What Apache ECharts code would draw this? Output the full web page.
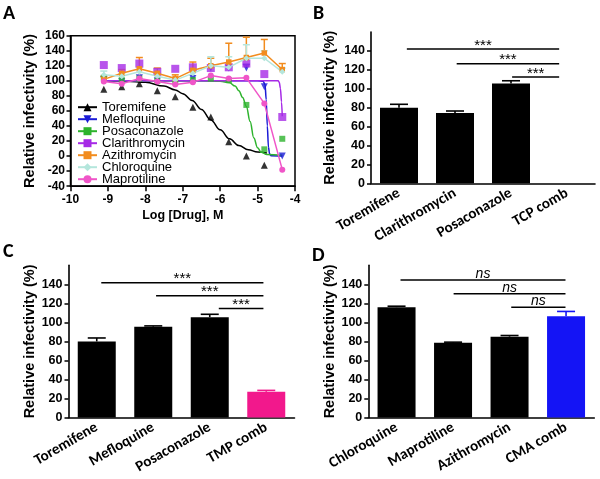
<!DOCTYPE html>
<html><head><meta charset="utf-8">
<script src="https://cdn.jsdelivr.net/npm/echarts@6/dist/echarts.min.js"></script>
<style>html,body{margin:0;padding:0;background:#fff}#c{width:600px;height:479px}</style>
</head><body><div id="c"></div>
<script>
// ---------- Panel A data ----------
const logDose = [-9.11, -8.63, -8.16, -7.68, -7.2, -6.73, -6.25, -5.77, -5.3, -4.82, -4.34];
const toremifene = [89, 92, 96, 87, 79, 65, 52, 19, 0, -12, null];
const mefloquine = [101, 99, 104, 100, 100, 103, 117, 117, 117, 92, 0];
const mefloquineErr = [0, 0, 0, 0, 0, 0, 2, 2, 5, 0, 0];
const posaconazole = [104, 101, 103, 100, 98, 101, 103, 101, 68, 9, 23];
const clarithromycin = [121, 117, 123, 112, 116, 118, 117, 118, 123, 109, 52];
const azithromycin = [102, 110, 116, 110, 103, 114, 120, 125, 131, 137, 115];
const azithromycinErr = [4, 5, 15, 7, 5, 11, 10, 25, 27, 18, 8];
const chloroquine = [108, 106, 112, 106, 101, 110, 120, 118, 130, 130, 112];
const chloroquineErr = [5, 4, 6, 4, 4, 6, 12, 14, 18, 10, 5];
const maprotiline = [99, 96, 103, 99, 95, 98, 107, 103, 104, 70, -18];
// fitted curves: [logDose, value]
const toremifeneFit = [[-9.11,100],[-8.5,99.5],[-8,98],[-7.5,93],[-7.2,88],[-7,83],[-6.75,74],[-6.5,62],[-6.25,48],[-6,35],[-5.75,23],[-5.5,14],[-5.25,8.5],[-5,5.5],[-4.75,4]];
const mefloquineFit = [[-9.11,100],[-5,100],[-4.85,99.5],[-4.8,95],[-4.77,75],[-4.74,40],[-4.71,12],[-4.68,3],[-4.64,0.5],[-4.34,0]];
const posaconazoleFit = [[-9.11,100],[-6.5,100],[-6,99.5],[-5.75,97.5],[-5.6,93],[-5.5,87],[-5.4,78],[-5.3,66],[-5.2,46],[-5.1,24],[-5,11],[-4.9,5],[-4.75,2],[-4.34,1]];
const clarithromycinFit = [[-9.11,100],[-4.45,100],[-4.42,98],[-4.39,90],[-4.36,72],[-4.34,53]];
const xTicksA = [-10, -4, 1];
const yTicksA = [-40, 160, 20];

// ---------- Panel B ----------
const catsB = ['Toremifene', 'Clarithromycin', 'Posaconazole', 'TCP comb'];
const valsB = [80, 74.5, 105.5, 0];
const errB = [3.6, 2, 3, 0];
const sigB = [[0.14, 2.86, 142], [1.03, 2.86, 126.5], [2.02, 2.86, 112.5]];
// ---------- Panel C ----------
const catsC = ['Toremifene', 'Mefloquine', 'Posaconazole', 'TMP comb'];
const valsC = [80, 95.5, 105.5, 27];
const errC = [3.6, 0.8, 3, 1.5];
const sigC = [[0.08, 2.95, 141.6], [1.05, 2.95, 128], [2.16, 2.95, 114.5]];
// ---------- Panel D ----------
const catsD = ['Chloroquine', 'Maprotiline', 'Azithromycin', 'CMA comb'];
const valsD = [116, 78.5, 85, 106.5];
const errD = [1, 0.7, 1.2, 5];
const sigD = [[0.07, 2.99, 144.6], [1.01, 2.99, 130.2], [2.03, 2.99, 115.8]];
const barTicks = [0, 20, 40, 60, 80, 100, 120, 140];
const yTitle = 'Relative infectivity (%)';

// ---------- styles ----------
const C = {tor:'#000000', mef:'#1a1ad6', pos:'#2db32d', cla:'#a62ae6', azi:'#f28c1e', chl:'#b4e6dc', map:'#f055c8', tmp:'#f2188c', cma:'#1414f5'};
const colorsB = ['#000','#000','#000','#000'];
const colorsC = ['#000','#000','#000',C.tmp];
const colorsD = ['#000','#000','#000',C.cma];
const AX = 'Liberation Sans, Arial, sans-serif';
const CAT = 'Carlito, Calibri, Lato, sans-serif';

const pairs = (xs, ys) => xs.map((x, i) => [x, ys[i]]).filter(p => p[1] != null);
const errTriples = (xs, ys, es) => xs.map((x, i) => [x, ys[i], ys[i] + es[i]]).filter((p, i) => ys[i] != null && es[i] > 0);

function lineAxis(w) { return {lineStyle: {color: '#000', width: w || 1.5}}; }

function errSeriesA(data, color, z) {
  return {type: 'custom', xAxisIndex: 0, yAxisIndex: 0, z: z, silent: true, data: data,
    renderItem(params, api) {
      const p0 = api.coord([api.value(0), api.value(1)]);
      const p1 = api.coord([api.value(0), api.value(2)]);
      return {type: 'group', children: [
        {type: 'line', shape: {x1: p0[0], y1: p0[1], x2: p1[0], y2: p1[1]}, style: {stroke: color, lineWidth: 1.5}},
        {type: 'line', shape: {x1: p1[0] - 3.5, y1: p1[1], x2: p1[0] + 3.5, y2: p1[1]}, style: {stroke: color, lineWidth: 1.5}}
      ]};
    }};
}

function barErrSeries(idx, vals, errs, colors) {
  return {type: 'custom', xAxisIndex: idx, yAxisIndex: idx, z: 3, silent: true,
    data: vals.map((v, i) => [i, v, v + errs[i]]),
    renderItem(params, api) {
      const v = api.value(1), t = api.value(2);
      if (!(t > v)) return;
      const p0 = api.coord([api.value(0), v]);
      const p1 = api.coord([api.value(0), t]);
      const col = colors[params.dataIndex];
      return {type: 'group', children: [
        {type: 'line', shape: {x1: p0[0], y1: p0[1], x2: p1[0], y2: p1[1]}, style: {stroke: col, lineWidth: 1.6}},
        {type: 'line', shape: {x1: p1[0] - 9, y1: p1[1], x2: p1[0] + 9, y2: p1[1]}, style: {stroke: col, lineWidth: 1.6}}
      ]};
    }};
}

function sigSeries(idx, sig, label, font, dy) {
  return {type: 'custom', xAxisIndex: idx, yAxisIndex: idx, z: 4, silent: true,
    data: sig.map(s => [0, s[2], s[0], s[1]]),
    renderItem(params, api) {
      const base = api.coord([0, api.value(1)]);
      const bw = api.size([1, 0])[0];
      const x1 = base[0] + api.value(2) * bw, x2 = base[0] + api.value(3) * bw;
      return {type: 'group', children: [
        {type: 'line', shape: {x1: x1, y1: base[1], x2: x2, y2: base[1]}, style: {stroke: '#000', lineWidth: 1.5}},
        {type: 'text', x: (x1 + x2) / 2, y: base[1] + dy, style: {text: label, font: font, fill: '#000', align: 'center', verticalAlign: 'bottom'}}
      ]};
    }};
}

function barPanel(idx, vals, colors) {
  return {type: 'bar', xAxisIndex: idx, yAxisIndex: idx, barWidth: 38, z: 2, silent: true,
    data: vals.map((v, i) => ({value: v, itemStyle: {color: colors[i]}}))};
}

function catXAxis(idx, cats) {
  return {type: 'category', gridIndex: idx, data: cats, axisLine: lineAxis(1.6), axisTick: {show: false},
    axisLabel: {rotate: 30, margin: 9, color: '#000', fontFamily: CAT, fontWeight: 'bold', fontSize: 15, interval: 0}};
}
function barYAxis(idx, gap) {
  return {type: 'value', gridIndex: idx, min: 0, max: 160, interval: 20, splitLine: {show: false},
    axisLine: {show: true, lineStyle: {color: '#000', width: 1.6}},
    axisTick: {show: true, length: 4, lineStyle: {color: '#000', width: 1.5}, customValues: barTicks},
    axisLabel: {color: '#000', fontFamily: AX, fontWeight: 'bold', fontSize: 12.5, margin: 6, customValues: barTicks},
    name: yTitle, nameLocation: 'middle', nameGap: gap, nameRotate: 90,
    nameTextStyle: {color: '#000', fontFamily: AX, fontWeight: 'bold', fontSize: 14.5}};
}

const starFont = '15px ' + AX;
const nsFont = 'italic 14px ' + AX;

const option = {
  animation: false,
  backgroundColor: '#fff',
  grid: [
    {left: 70.5, top: 35.7, width: 224.5, height: 150.5, show: true, borderColor: '#000', borderWidth: 1.5, backgroundColor: 'transparent'},
    {left: 371, top: 32.1, width: 224, height: 151.2},
    {left: 68.5, top: 265.3, width: 226, height: 152.2},
    {left: 368.3, top: 265.3, width: 226, height: 152.2}
  ],
  xAxis: [
    {type: 'value', gridIndex: 0, min: xTicksA[0], max: xTicksA[1], interval: xTicksA[2], splitLine: {show: false},
      axisLine: {show: true, onZero: false, lineStyle: {color: '#000', width: 1.5}},
      axisTick: {show: true, length: 5, lineStyle: {color: '#000', width: 1.5}},
      axisLabel: {color: '#000', fontFamily: AX, fontWeight: 'bold', fontSize: 12, margin: 7},
      name: 'Log [Drug], M', nameLocation: 'middle', nameGap: 23,
      nameTextStyle: {color: '#000', fontFamily: AX, fontWeight: 'bold', fontSize: 12.5}},
    catXAxis(1, catsB), catXAxis(2, catsC), catXAxis(3, catsD)
  ],
  yAxis: [
    {type: 'value', gridIndex: 0, min: yTicksA[0], max: yTicksA[1], interval: yTicksA[2], splitLine: {show: false},
      axisLine: {show: true, onZero: false, lineStyle: {color: '#000', width: 1.5}},
      axisTick: {show: true, length: 4, lineStyle: {color: '#000', width: 1.5}},
      axisLabel: {color: '#000', fontFamily: AX, fontWeight: 'bold', fontSize: 12, margin: 5.5},
      name: yTitle, nameLocation: 'middle', nameGap: 33, nameRotate: 90,
      nameTextStyle: {color: '#000', fontFamily: AX, fontWeight: 'bold', fontSize: 14.5}},
    barYAxis(1, 34), barYAxis(2, 31), barYAxis(3, 31)
  ],
  legend: {
    left: 77, top: 100.7, orient: 'vertical', padding: 0, itemWidth: 19, itemHeight: 10, itemGap: -1, selectedMode: false,
    data: ['Toremifene', 'Mefloquine', 'Posaconazole', 'Clarithromycin', 'Azithromycin', 'Chloroquine', 'Maprotiline'],
    textStyle: {color: '#000', fontFamily: AX, fontSize: 13, lineHeight: 12, height: 12, padding: 0}
  },
  graphic: [
    {type: 'text', x: 3, y: 13.5, style: {text: 'A', font: 'bold 20px ' + CAT, fill: '#000', verticalAlign: 'middle'}},
    {type: 'text', x: 313, y: 13.5, style: {text: 'B', font: 'bold 20px ' + CAT, fill: '#000', verticalAlign: 'middle'}},
    {type: 'text', x: 3, y: 252, style: {text: 'C', font: 'bold 20px ' + CAT, fill: '#000', verticalAlign: 'middle'}},
    {type: 'text', x: 312, y: 256, style: {text: 'D', font: 'bold 20px ' + CAT, fill: '#000', verticalAlign: 'middle'}}
  ],
  series: [
    // fitted curves (carry the legend icons)
    {name: 'Toremifene', type: 'line', xAxisIndex: 0, yAxisIndex: 0, data: toremifeneFit, smooth: 0.4, smoothMonotone: 'x', showSymbol: false, symbol: 'triangle', symbolSize: 7, color: C.tor, lineStyle: {width: 1.5}, z: 2},
    {name: 'Mefloquine', type: 'line', xAxisIndex: 0, yAxisIndex: 0, data: mefloquineFit, smooth: 0.3, smoothMonotone: 'x', showSymbol: false, symbol: 'triangle', symbolRotate: 180, symbolSize: 7, color: C.mef, lineStyle: {width: 1.5}, z: 2},
    {name: 'Posaconazole', type: 'line', xAxisIndex: 0, yAxisIndex: 0, data: posaconazoleFit, smooth: 0.4, smoothMonotone: 'x', showSymbol: false, symbol: 'rect', symbolSize: 6, color: C.pos, lineStyle: {width: 1.5}, z: 2},
    {name: 'Clarithromycin', type: 'line', xAxisIndex: 0, yAxisIndex: 0, data: clarithromycinFit, smooth: 0.3, smoothMonotone: 'x', showSymbol: false, symbol: 'rect', symbolSize: 8, color: C.cla, lineStyle: {width: 1.5}, z: 2},
    // error bars
    errSeriesA(errTriples(logDose, mefloquine, mefloquineErr), C.mef, 3),
    errSeriesA(errTriples(logDose, azithromycin, azithromycinErr), C.azi, 3),
    errSeriesA(errTriples(logDose, chloroquine, chloroquineErr), C.chl, 3),
    // measured points
    {name: 'Toremifene', type: 'scatter', xAxisIndex: 0, yAxisIndex: 0, data: pairs(logDose, toremifene), symbol: 'triangle', symbolSize: 7, color: C.tor, z: 5},
    {name: 'Mefloquine', type: 'scatter', xAxisIndex: 0, yAxisIndex: 0, data: pairs(logDose, mefloquine), symbol: 'triangle', symbolRotate: 180, symbolSize: 7, color: C.mef, z: 5},
    {name: 'Posaconazole', type: 'scatter', xAxisIndex: 0, yAxisIndex: 0, data: pairs(logDose, posaconazole), symbol: 'rect', symbolSize: 6, color: C.pos, z: 5},
    {name: 'Clarithromycin', type: 'scatter', xAxisIndex: 0, yAxisIndex: 0, data: pairs(logDose, clarithromycin), symbol: 'rect', symbolSize: 8, color: C.cla, z: 5},
    {name: 'Azithromycin', type: 'line', xAxisIndex: 0, yAxisIndex: 0, data: pairs(logDose, azithromycin), symbol: 'rect', symbolSize: 5.5, showSymbol: true, color: C.azi, lineStyle: {width: 1.5}, z: 6},
    {name: 'Chloroquine', type: 'line', xAxisIndex: 0, yAxisIndex: 0, data: pairs(logDose, chloroquine), symbol: 'diamond', symbolSize: 6, showSymbol: true, color: C.chl, lineStyle: {width: 1.5}, z: 6},
    {name: 'Maprotiline', type: 'line', xAxisIndex: 0, yAxisIndex: 0, data: pairs(logDose, maprotiline), symbol: 'circle', symbolSize: 6, showSymbol: true, color: C.map, lineStyle: {width: 1.5}, z: 7},
    // bar panels
    barPanel(1, valsB, colorsB), barErrSeries(1, valsB, errB, colorsB), sigSeries(1, sigB, '***', starFont, 4),
    barPanel(2, valsC, colorsC), barErrSeries(2, valsC, errC, colorsC), sigSeries(2, sigC, '***', starFont, 4),
    barPanel(3, valsD, colorsD), barErrSeries(3, valsD, errD, colorsD), sigSeries(3, sigD, 'ns', nsFont, 1)
  ]
};
const chart = echarts.init(document.getElementById('c'), null, {renderer: 'canvas'});
chart.setOption(option);
</script></body></html>
